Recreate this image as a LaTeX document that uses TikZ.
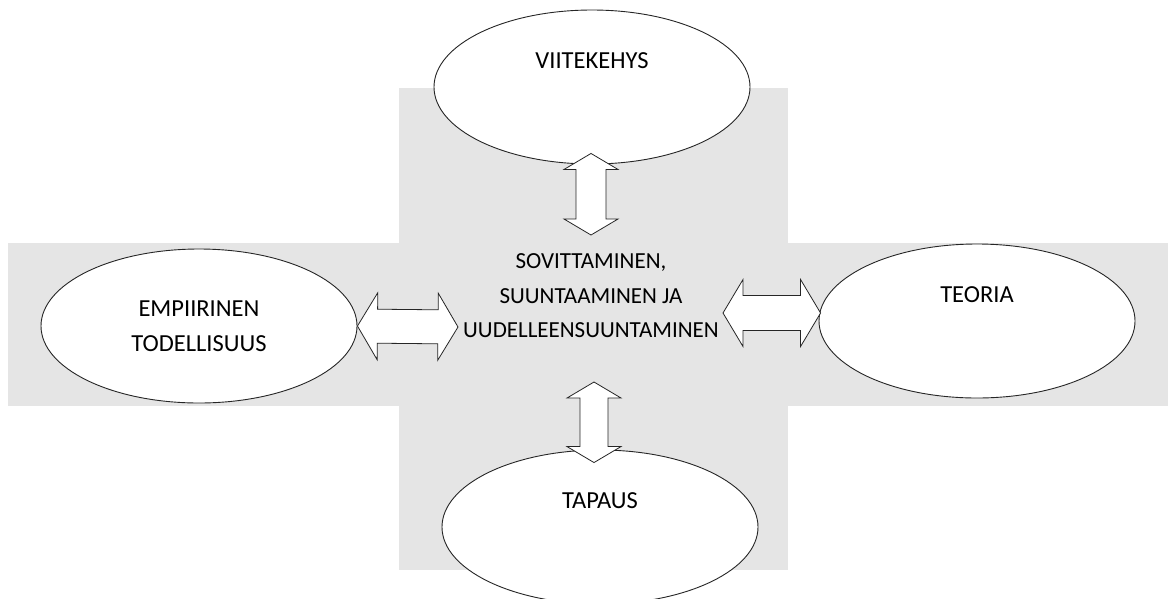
\documentclass[tikz,border=0pt]{standalone}
\usepackage{fontspec}
\setmainfont{Carlito}
\usepackage{tikz}
\usetikzlibrary{shapes.geometric, calc}
\definecolor{crossgray}{RGB}{229,229,229}
\tikzstyle{band} = [fill=crossgray, draw=none]
\tikzstyle{concept} = [ellipse, draw=black!85, line width=0.9pt, fill=white, minimum width=316pt, minimum height=154pt, inner sep=0pt, font=\fontsize{24.5}{35}\selectfont, align=center]
\tikzstyle{raised} = [text height=17pt, text depth=55pt]
\tikzstyle{core} = [inner sep=0pt, font=\fontsize{23}{34.5}\selectfont, align=center]
\tikzstyle{fatarrow} = [draw=black!85, line width=0.8pt, fill=white, line join=miter]
% double block arrow: #1 from, #2 to, #3 head length, #4 half shaft, #5 half head
\newcommand{\fatlink}[5]{%
  \coordinate (h1) at ($(#1)!#3!(#2)$);
  \coordinate (h2) at ($(#2)!#3!(#1)$);
  \draw[fatarrow] (#1) -- ($(h1)!#5!90:(#2)$) -- ($(h1)!#4!90:(#2)$)
    -- ($(h2)!#4!-90:(#1)$) -- ($(h2)!#5!-90:(#1)$) -- (#2)
    -- ($(h2)!#5!90:(#1)$) -- ($(h2)!#4!90:(#1)$)
    -- ($(h1)!#4!-90:(#2)$) -- ($(h1)!#5!-90:(#2)$) -- cycle;}

\begin{document}
\begin{tikzpicture}[x=1pt, y=-1pt]
    \clip (0,0) rectangle (1169,598);
    % Background cross
    \fill[band] (399,88) rectangle (788,570);
    \fill[band] (8,243) rectangle (1168,406);

    % Nodes
    \node[core] (fit) at (591,296) {SOVITTAMINEN,\\SUUNTAAMINEN JA\\UUDELLEENSUUNTAMINEN};
    \node[concept, raised] (frame) at (592,87) {VIITEKEHYS};
    \node[concept] (empiria) at (199,326) {EMPIIRINEN\\TODELLISUUS};
    \node[concept, raised] (theory) at (977,321) {TEORIA};
    \node[concept, raised] (case) at (600,527) {TAPAUS};

    % Arrows
    \coordinate (frame-in) at ($(frame.south)+(-1,-11)$);
    \coordinate (fit-top) at (591,235);
    \coordinate (fit-left) at (458,327);
    \coordinate (fit-right) at (723,313);
    \coordinate (theory-in) at ($(theory.west)+(2,-8)$);
    \coordinate (fit-bottom) at (594,382);
    \coordinate (case-in) at ($(case.north)+(-6,13)$);
    \fatlink{frame-in}{fit-top}{16pt}{15pt}{27pt}
    \fatlink{empiria.east}{fit-left}{20pt}{17pt}{33.5pt}
    \fatlink{fit-right}{theory-in}{20pt}{17.5pt}{33.5pt}
    \fatlink{fit-bottom}{case-in}{16pt}{14pt}{27pt}
\end{tikzpicture}
\end{document}
